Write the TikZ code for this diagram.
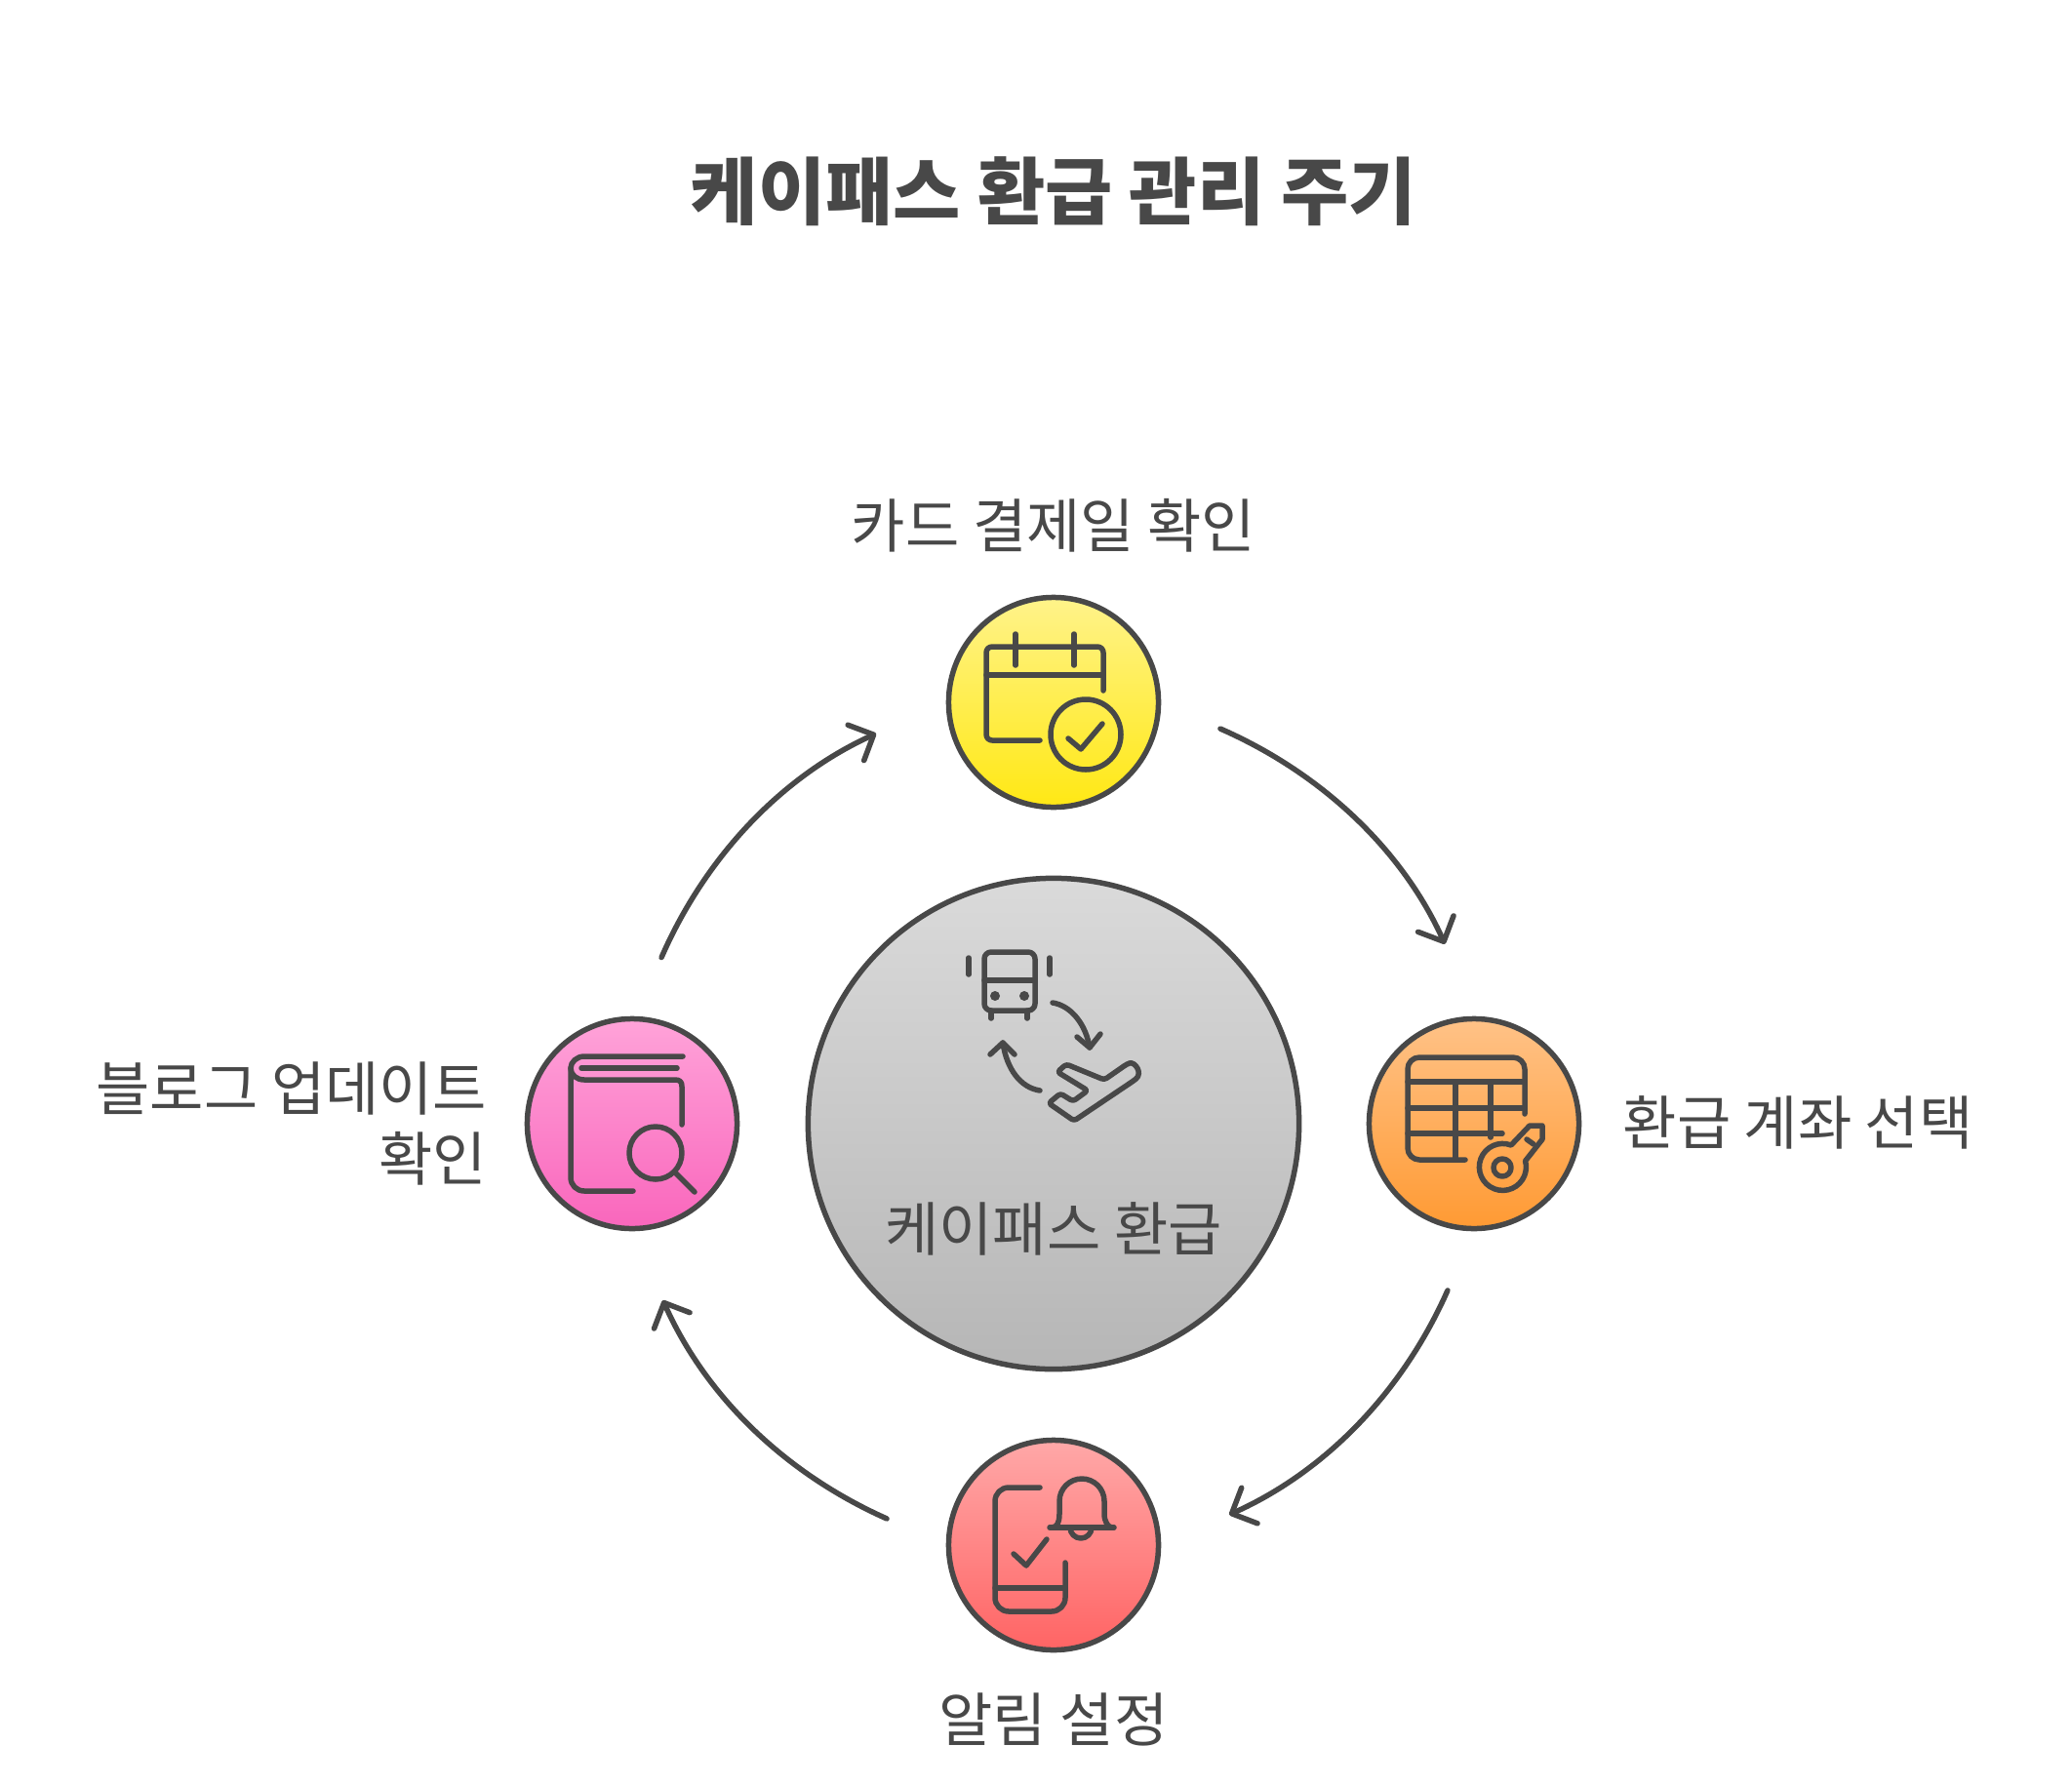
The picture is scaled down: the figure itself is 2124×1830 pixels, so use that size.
\documentclass[tikz,border=0pt]{standalone}
\usepackage{fontspec}
\usepackage{xcolor}
\usetikzlibrary{arrows.meta}
\setmainfont{Noto Sans CJK KR}
\definecolor{inkgray}{HTML}{484848}
\definecolor{hubtop}{HTML}{DADADA}
\definecolor{hubbot}{HTML}{B6B6B6}

\begin{document}
\begin{tikzpicture}[
    x=0.01cm, y=-0.01cm,
    stepnode/.style={circle, draw=inkgray, line width=0.055cm, minimum size=2.15cm, inner sep=0pt, outer sep=0.655cm},
    hubnode/.style={circle, draw=inkgray, line width=0.055cm, minimum size=5.03cm, inner sep=0pt, top color=hubtop, bottom color=hubbot},
    label/.style={text=inkgray, inner sep=0pt, font=\fontsize{17.1}{20.6}\selectfont},
    title/.style={text=inkgray, font=\fontsize{21.4}{30}\selectfont\bfseries},
    flow/.style={draw=inkgray, line width=0.055cm, line cap=round, looseness=0.9, -{Straight Barb[length=0.2cm, width=0.4cm, round]}},
    icon/.style={draw=inkgray, line width=0.055cm, line cap=round, line join=round}
]

% Background and size of the page
\path [use as bounding box, fill=white] (0,0) rectangle (2124,1830);

% Title
\node [title] (heading) at (1080,196) {케이패스 환급 관리 주기};

% Hub and the four steps
\node [hubnode] (hub) at (1080,1152) {};
\node [stepnode, top color={rgb,255:red,255;green,243;blue,138}, bottom color={rgb,255:red,255;green,232;blue,20}] (card) at (1080,720) {};
\node [stepnode, top color={rgb,255:red,255;green,194;blue,135}, bottom color={rgb,255:red,255;green,154;blue,51}] (account) at (1511,1152) {};
\node [stepnode, top color={rgb,255:red,255;green,168;blue,168}, bottom color={rgb,255:red,255;green,100;blue,100}] (alarm) at (1080,1584) {};
\node [stepnode, top color={rgb,255:red,255;green,163;blue,217}, bottom color={rgb,255:red,249;green,102;blue,188}] (blog) at (648,1152) {};

% Labels
\node [label] (cardtext) at (1080,539) {카드 결제일 확인};
\node [label, anchor=west] (accounttext) at (1663,1151) {환급 계좌 선택};
\node [label] (alarmtext) at (1080,1763) {알림 설정};
\node [label, anchor=east, align=right] (blogtext) at (500,1152) {블로그 업데이트\\확인};
\node [label] (hubtext) at (1080,1260) {케이패스 환급};

% Cycle arrows
\draw [flow, shorten >=0.14cm] (card.-9) to[bend left=21] (account.98);
\draw [flow, shorten >=0.1cm] (account.261) to[bend left=21] (alarm.9);
\draw [flow, shorten >=0.11cm] (alarm.171) to[bend left=21] (blog.-81);
\draw [flow, shorten >=0.12cm] (blog.80) to[bend left=21] (card.189);

% Calendar icon
\draw [icon, rounded corners=0.06cm] (1066,759) -- (1011,759) -- (1011,663) -- (1131,663) -- (1131,708);
\draw [icon] (1011,692) -- (1131,692);
\draw [icon] (1041,650) -- (1041,682);
\draw [icon] (1101,650) -- (1101,682);
\draw [icon] (1113,753) circle[radius=36];
\draw [icon] (1095,757) -- (1108,768) -- (1130,742);

% Bus and plane icon
\draw [icon, rounded corners=0.07cm] (1009,976) rectangle (1061,1036);
\draw [icon] (1009,1005) -- (1061,1005);
\fill [inkgray] (1020,1021) circle[radius=5];
\fill [inkgray] (1050,1021) circle[radius=5];
\draw [icon] (1016,1036) -- (1016,1044);
\draw [icon] (1053,1036) -- (1053,1044);
\draw [icon] (993,982) -- (993,999);
\draw [icon] (1076,982) -- (1076,999);
\draw [icon] (1079,1028) .. controls (1098,1031) and (1113,1050) .. (1117,1074);
\draw [icon] (1104,1063) -- (1117,1074) -- (1128,1060);
\draw [icon] (1066,1118) .. controls (1046,1115) and (1032,1096) .. (1028,1069);
\draw [icon] (1015,1081) -- (1028,1069) -- (1040,1081);
\draw [icon, rounded corners=0.03cm] (1093,1091) -- (1132,1107) -- (1155,1091) .. controls (1163,1088) and (1172,1100) .. (1162,1108) -- (1101,1149) -- (1075,1131) -- (1087,1121) -- (1100,1129) -- (1115,1118) -- (1084,1099) -- cycle;

% Table and key icon
\draw [icon, rounded corners=0.12cm] (1563,1142) -- (1563,1084) -- (1443,1084) -- (1443,1189) -- (1502,1189);
\draw [icon] (1443,1109) -- (1563,1109);
\draw [icon] (1443,1136) -- (1563,1136);
\draw [icon] (1443,1162) -- (1540,1162);
\draw [icon] (1492,1109) -- (1492,1189);
\draw [icon] (1528,1109) -- (1528,1166);
\draw [icon] (1540,1197) circle[radius=9];
\draw [icon] (1549,1174) arc[start angle=-69, end angle=-375, radius=24] -- (1581,1168) -- (1581,1154) -- (1568,1154) -- cycle;
\draw [icon] (1565,1168) -- (1572,1173);

% Phone and bell icon
\draw [icon, rounded corners=0.14cm] (1066,1525) -- (1020,1525) -- (1020,1652) -- (1092,1652) -- (1092,1602);
\draw [icon] (1020,1628) -- (1092,1628);
\draw [icon] (1039,1593) -- (1052,1605) -- (1073,1578);
\draw [icon] (1076,1566) -- (1142,1566);
\draw [icon] (1078,1566) .. controls (1084,1566) and (1086,1560) .. (1086,1552) -- (1086,1539) arc[start angle=180, end angle=360, radius=23] -- (1132,1552) .. controls (1132,1560) and (1136,1566) .. (1140,1566);
\draw [icon] (1097,1566) arc[start angle=180, end angle=0, radius=11];

% Book and magnifier icon
\draw [icon] (700,1083) -- (599,1083) .. controls (591,1083) and (585,1089) .. (585,1095) -- (585,1207) .. controls (585,1215) and (591,1221) .. (599,1221) -- (649,1221);
\draw [icon] (585,1095) .. controls (585,1102) and (591,1107) .. (599,1107) -- (692,1107) .. controls (697,1107) and (699,1109) .. (699,1114) -- (699,1153);
\draw [icon] (596,1095) -- (694,1095);
\draw [icon] (672,1182) circle[radius=27];
\draw [icon] (693,1203) -- (712,1222);

\end{tikzpicture}
\end{document}
